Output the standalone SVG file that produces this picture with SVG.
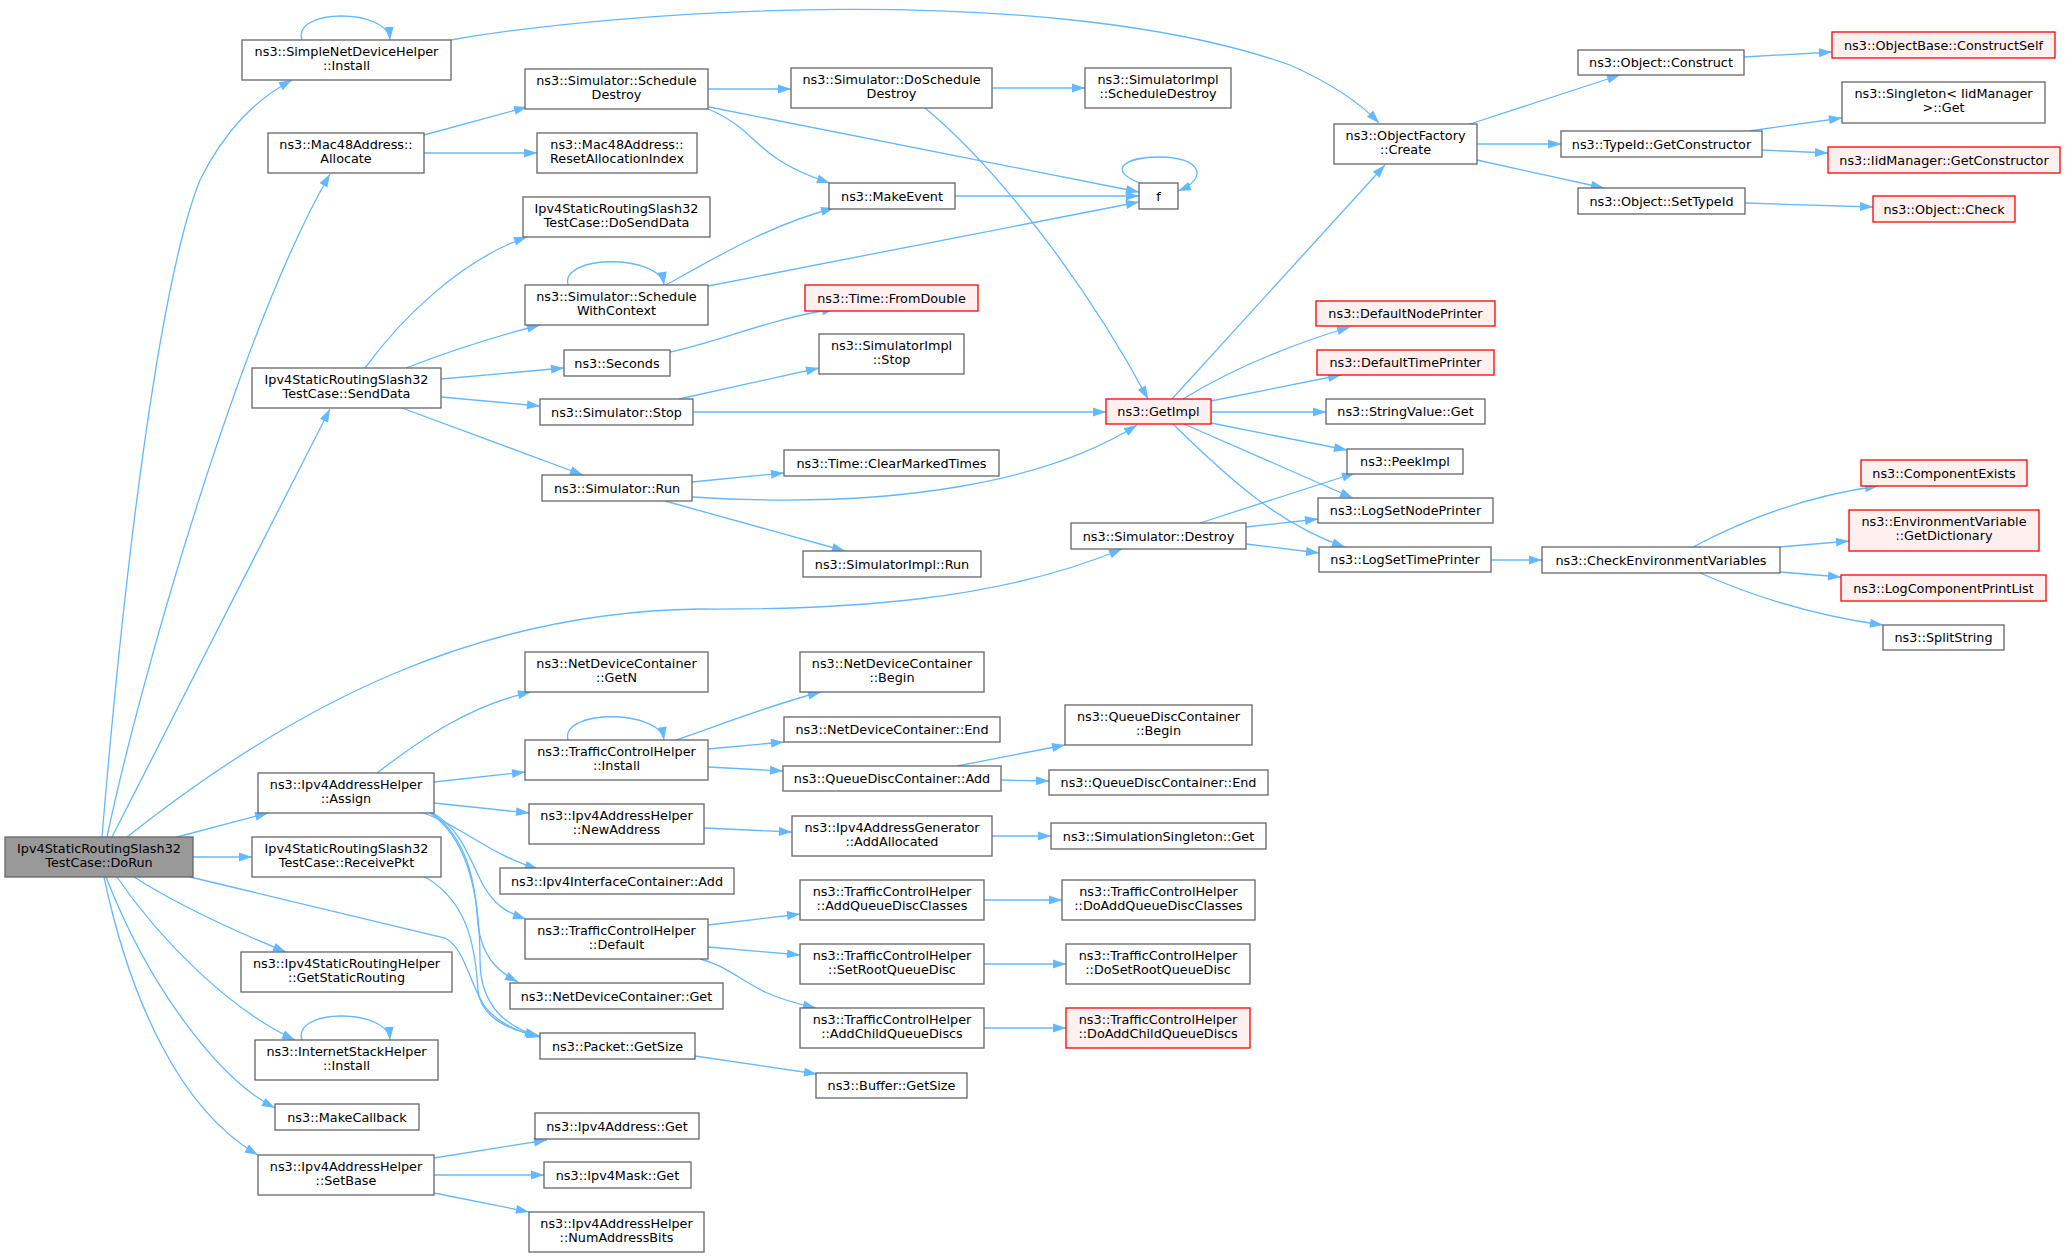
<svg xmlns="http://www.w3.org/2000/svg" width="2065" height="1257" viewBox="0 0 2065 1257">
<style>
rect{fill:#fff;stroke:#666;stroke-width:1.3}
.r rect{fill:#FFF0F0;stroke:#F00}
.g rect{fill:#999}
text{font-family:"DejaVu Sans","Liberation Sans",sans-serif;font-size:12.8px;text-anchor:middle;fill:#000}
#edges path{fill:none;stroke:#63B8FF;stroke-width:1.3;marker-end:url(#a)}
</style>
<defs>
<marker id="a" markerUnits="userSpaceOnUse" markerWidth="14" markerHeight="10" refX="13" refY="4.5" orient="auto" overflow="visible"><path d="M0,0L13,4.5L0,9z" fill="#63B8FF"/></marker>
</defs>
<rect x="0" y="0" width="2065" height="1257" style="fill:#fff;stroke:none"/>
<g id="edges">
<path d="M102,837C125,560 160,280 200,180C225,130 255,100 292,80"/>
<path d="M107,837C140,680 240,330 330,174"/>
<path d="M112,837L330,409"/>
<path d="M127,837C300,700 480,612 700,609C850,610 1000,600 1122,549"/>
<path d="M177,837L268,813"/>
<path d="M193,857L252,857"/>
<path d="M190,877L445,938C465,948 470,985 485,1007C500,1025 520,1032 540,1037"/>
<path d="M134,877C170,900 220,925 286,952"/>
<path d="M117,877C160,940 230,1010 295,1040"/>
<path d="M106,877C150,990 220,1080 275,1108"/>
<path d="M104,877C130,1000 180,1110 258,1155"/>
<path d="M302,40C292,8 388,8 390,40"/>
<path d="M302,1040C292,1008 388,1008 390,1040"/>
<path d="M451,40C620,10 1050,-20 1290,65C1335,85 1362,105 1379,123"/>
<path d="M424,135L527,107"/>
<path d="M424,153L537,153"/>
<path d="M708,89L791,89"/>
<path d="M708,109C740,122 752,140 768,152C785,166 805,175 830,183"/>
<path d="M709,107L1139,192"/>
<path d="M992,88L1085,88"/>
<path d="M925,108C1000,170 1090,290 1148,399"/>
<path d="M955,196L1139,196"/>
<path d="M1142,184C1105,170 1125,157 1160,157C1200,157 1210,178 1178,191"/>
<path d="M365,368C400,320 460,260 527,237"/>
<path d="M406,368Q470,343 540,325"/>
<path d="M441,379L564,368"/>
<path d="M441,397L540,406"/>
<path d="M402,408L583,475"/>
<path d="M568,285C560,254 660,254 664,285"/>
<path d="M666,285C720,255 770,225 834,208"/>
<path d="M708,286L1139,202"/>
<path d="M670,352C720,342 770,318 835,309"/>
<path d="M679,399L819,368"/>
<path d="M693,412L1106,412"/>
<path d="M692,482L784,473"/>
<path d="M692,497C900,510 1050,480 1137,425"/>
<path d="M665,501L845,551"/>
<path d="M1172,399L1385,165"/>
<path d="M1183,399C1230,370 1290,345 1350,327"/>
<path d="M1211,401L1341,375"/>
<path d="M1211,412L1326,412"/>
<path d="M1211,423L1347,450"/>
<path d="M1184,424L1353,498"/>
<path d="M1173,424C1230,480 1280,525 1345,547"/>
<path d="M1200,523L1355,473"/>
<path d="M1246,527L1318,519"/>
<path d="M1246,544L1319,553"/>
<path d="M377,773C420,740 470,705 531,692"/>
<path d="M568,740C560,709 660,709 664,740"/>
<path d="M434,782L525,772"/>
<path d="M434,803L529,813"/>
<path d="M423,813C460,825 490,855 538,869"/>
<path d="M433,813C462,830 470,860 483,885C495,905 505,912 526,919"/>
<path d="M432,813C470,840 476,890 478,925C482,955 495,970 518,982"/>
<path d="M430,813C470,840 480,900 480,960C480,1000 500,1025 538,1036"/>
<path d="M425,877C465,900 475,940 478,990C480,1015 505,1030 540,1036"/>
<path d="M676,740C720,725 770,705 821,692"/>
<path d="M708,749L784,742"/>
<path d="M708,767L783,771"/>
<path d="M957,766L1065,745"/>
<path d="M1001,780L1049,781"/>
<path d="M704,828L792,832"/>
<path d="M992,836L1051,836"/>
<path d="M708,925L800,914"/>
<path d="M708,947L800,955"/>
<path d="M700,959C725,965 740,980 765,992C782,1000 798,1004 816,1008"/>
<path d="M984,900L1062,900"/>
<path d="M984,964L1066,964"/>
<path d="M984,1028L1066,1028"/>
<path d="M695,1056L817,1074"/>
<path d="M434,1158L547,1140"/>
<path d="M434,1175L544,1175"/>
<path d="M434,1193L529,1212"/>
<path d="M1470,124L1620,75"/>
<path d="M1477,144L1561,144"/>
<path d="M1477,160L1604,188"/>
<path d="M1744,57L1832,52"/>
<path d="M1749,131L1842,118"/>
<path d="M1762,150L1828,153"/>
<path d="M1745,203L1873,207"/>
<path d="M1491,560L1542,560"/>
<path d="M1693,547C1740,522 1800,497 1878,486"/>
<path d="M1780,547L1849,541"/>
<path d="M1780,572L1841,577"/>
<path d="M1700,573C1750,595 1810,615 1883,625"/>
</g>
<g id="n_dorun" class="g"><rect x="5" y="837" width="188" height="40"/><text x="99" y="853">Ipv4StaticRoutingSlash32</text><text x="99" y="867.3">TestCase::DoRun</text></g>
<g id="n_simplenet"><rect x="242" y="40" width="209" height="40"/><text x="346.5" y="56">ns3::SimpleNetDeviceHelper</text><text x="346.5" y="70.3">::Install</text></g>
<g id="n_allocate"><rect x="268" y="133" width="156" height="40"/><text x="346" y="149">ns3::Mac48Address::</text><text x="346" y="163.3">Allocate</text></g>
<g id="n_senddata"><rect x="252" y="368" width="189" height="40"/><text x="346.5" y="384">Ipv4StaticRoutingSlash32</text><text x="346.5" y="398.3">TestCase::SendData</text></g>
<g id="n_assign"><rect x="258" y="773" width="176" height="40"/><text x="346" y="789">ns3::Ipv4AddressHelper</text><text x="346" y="803.3">::Assign</text></g>
<g id="n_receivepkt"><rect x="252" y="837" width="189" height="40"/><text x="346.5" y="853">Ipv4StaticRoutingSlash32</text><text x="346.5" y="867.3">TestCase::ReceivePkt</text></g>
<g id="n_getstaticrouting"><rect x="241" y="952" width="211" height="40"/><text x="346.5" y="968">ns3::Ipv4StaticRoutingHelper</text><text x="346.5" y="982.3">::GetStaticRouting</text></g>
<g id="n_ishinstall"><rect x="255" y="1040" width="183" height="40"/><text x="346.5" y="1056">ns3::InternetStackHelper</text><text x="346.5" y="1070.3">::Install</text></g>
<g id="n_makecallback"><rect x="275" y="1104" width="144" height="26"/><text x="347" y="1121.5">ns3::MakeCallback</text></g>
<g id="n_setbase"><rect x="258" y="1155" width="176" height="40"/><text x="346" y="1171">ns3::Ipv4AddressHelper</text><text x="346" y="1185.3">::SetBase</text></g>
<g id="n_scheduledestroy"><rect x="525" y="69" width="183" height="40"/><text x="616.5" y="85">ns3::Simulator::Schedule</text><text x="616.5" y="99.3">Destroy</text></g>
<g id="n_resetalloc"><rect x="537" y="133" width="160" height="40"/><text x="617" y="149">ns3::Mac48Address::</text><text x="617" y="163.3">ResetAllocationIndex</text></g>
<g id="n_dosenddata"><rect x="523" y="197" width="187" height="40"/><text x="616.5" y="213">Ipv4StaticRoutingSlash32</text><text x="616.5" y="227.3">TestCase::DoSendData</text></g>
<g id="n_schedulewithcontext"><rect x="525" y="285" width="183" height="40"/><text x="616.5" y="301">ns3::Simulator::Schedule</text><text x="616.5" y="315.3">WithContext</text></g>
<g id="n_seconds"><rect x="564" y="350" width="106" height="26"/><text x="617" y="367.5">ns3::Seconds</text></g>
<g id="n_stop"><rect x="540" y="399" width="153" height="26"/><text x="616.5" y="416.5">ns3::Simulator::Stop</text></g>
<g id="n_run"><rect x="542" y="475" width="150" height="26"/><text x="617" y="492.5">ns3::Simulator::Run</text></g>
<g id="n_getn"><rect x="525" y="652" width="183" height="40"/><text x="616.5" y="668">ns3::NetDeviceContainer</text><text x="616.5" y="682.3">::GetN</text></g>
<g id="n_tchinstall"><rect x="525" y="740" width="183" height="40"/><text x="616.5" y="756">ns3::TrafficControlHelper</text><text x="616.5" y="770.3">::Install</text></g>
<g id="n_newaddress"><rect x="529" y="804" width="175" height="40"/><text x="616.5" y="820">ns3::Ipv4AddressHelper</text><text x="616.5" y="834.3">::NewAddress</text></g>
<g id="n_ifcadd"><rect x="500" y="868" width="234" height="26"/><text x="617" y="885.5">ns3::Ipv4InterfaceContainer::Add</text></g>
<g id="n_default"><rect x="525" y="919" width="183" height="40"/><text x="616.5" y="935">ns3::TrafficControlHelper</text><text x="616.5" y="949.3">::Default</text></g>
<g id="n_ndcget"><rect x="510" y="983" width="213" height="26"/><text x="616.5" y="1000.5">ns3::NetDeviceContainer::Get</text></g>
<g id="n_packetgetsize"><rect x="540" y="1033" width="155" height="26"/><text x="617.5" y="1050.5">ns3::Packet::GetSize</text></g>
<g id="n_ipv4addrget"><rect x="535" y="1113" width="164" height="26"/><text x="617" y="1130.5">ns3::Ipv4Address::Get</text></g>
<g id="n_maskget"><rect x="544" y="1162" width="147" height="26"/><text x="617.5" y="1179.5">ns3::Ipv4Mask::Get</text></g>
<g id="n_numaddressbits"><rect x="529" y="1212" width="175" height="40"/><text x="616.5" y="1228">ns3::Ipv4AddressHelper</text><text x="616.5" y="1242.3">::NumAddressBits</text></g>
<g id="n_doscheduledestroy"><rect x="791" y="68" width="201" height="40"/><text x="891.5" y="84">ns3::Simulator::DoSchedule</text><text x="891.5" y="98.3">Destroy</text></g>
<g id="n_makeevent"><rect x="829" y="183" width="126" height="26"/><text x="892" y="200.5">ns3::MakeEvent</text></g>
<g id="n_fromdouble" class="r"><rect x="805" y="285" width="173" height="26"/><text x="891.5" y="302.5">ns3::Time::FromDouble</text></g>
<g id="n_simimplstop"><rect x="819" y="334" width="145" height="40"/><text x="891.5" y="350">ns3::SimulatorImpl</text><text x="891.5" y="364.3">::Stop</text></g>
<g id="n_clearmarked"><rect x="784" y="450" width="215" height="26"/><text x="891.5" y="467.5">ns3::Time::ClearMarkedTimes</text></g>
<g id="n_simimplrun"><rect x="803" y="551" width="178" height="26"/><text x="892" y="568.5">ns3::SimulatorImpl::Run</text></g>
<g id="n_ndcbegin"><rect x="800" y="652" width="184" height="40"/><text x="892" y="668">ns3::NetDeviceContainer</text><text x="892" y="682.3">::Begin</text></g>
<g id="n_ndcend"><rect x="784" y="717" width="216" height="25"/><text x="892" y="734">ns3::NetDeviceContainer::End</text></g>
<g id="n_qdcadd"><rect x="783" y="766" width="218" height="25"/><text x="892" y="783">ns3::QueueDiscContainer::Add</text></g>
<g id="n_addallocated"><rect x="792" y="816" width="200" height="40"/><text x="892" y="832">ns3::Ipv4AddressGenerator</text><text x="892" y="846.3">::AddAllocated</text></g>
<g id="n_addqdclasses"><rect x="800" y="880" width="184" height="40"/><text x="892" y="896">ns3::TrafficControlHelper</text><text x="892" y="910.3">::AddQueueDiscClasses</text></g>
<g id="n_setroot"><rect x="800" y="944" width="184" height="40"/><text x="892" y="960">ns3::TrafficControlHelper</text><text x="892" y="974.3">::SetRootQueueDisc</text></g>
<g id="n_addchild"><rect x="800" y="1008" width="184" height="40"/><text x="892" y="1024">ns3::TrafficControlHelper</text><text x="892" y="1038.3">::AddChildQueueDiscs</text></g>
<g id="n_buffergetsize"><rect x="816" y="1073" width="151" height="25"/><text x="891.5" y="1090">ns3::Buffer::GetSize</text></g>
<g id="n_simimplscheduledestroy"><rect x="1085" y="68" width="146" height="40"/><text x="1158" y="84">ns3::SimulatorImpl</text><text x="1158" y="98.3">::ScheduleDestroy</text></g>
<g id="n_f"><rect x="1139" y="183" width="39" height="26"/><text x="1158.5" y="200.5">f</text></g>
<g id="n_getimpl" class="r"><rect x="1106" y="399" width="105" height="25"/><text x="1158.5" y="416">ns3::GetImpl</text></g>
<g id="n_destroy"><rect x="1071" y="523" width="175" height="26"/><text x="1158.5" y="540.5">ns3::Simulator::Destroy</text></g>
<g id="n_qdcbegin"><rect x="1065" y="705" width="187" height="40"/><text x="1158.5" y="721">ns3::QueueDiscContainer</text><text x="1158.5" y="735.3">::Begin</text></g>
<g id="n_qdcend"><rect x="1049" y="770" width="219" height="25"/><text x="1158.5" y="787">ns3::QueueDiscContainer::End</text></g>
<g id="n_simsingleton"><rect x="1051" y="823" width="215" height="26"/><text x="1158.5" y="840.5">ns3::SimulationSingleton::Get</text></g>
<g id="n_doaddqdclasses"><rect x="1062" y="880" width="193" height="40"/><text x="1158.5" y="896">ns3::TrafficControlHelper</text><text x="1158.5" y="910.3">::DoAddQueueDiscClasses</text></g>
<g id="n_dosetroot"><rect x="1066" y="944" width="184" height="40"/><text x="1158" y="960">ns3::TrafficControlHelper</text><text x="1158" y="974.3">::DoSetRootQueueDisc</text></g>
<g id="n_doaddchild" class="r"><rect x="1066" y="1008" width="184" height="40"/><text x="1158" y="1024">ns3::TrafficControlHelper</text><text x="1158" y="1038.3">::DoAddChildQueueDiscs</text></g>
<g id="n_objectfactory"><rect x="1334" y="124" width="143" height="40"/><text x="1405.5" y="140">ns3::ObjectFactory</text><text x="1405.5" y="154.3">::Create</text></g>
<g id="n_defaultnodeprinter" class="r"><rect x="1316" y="301" width="179" height="25"/><text x="1405.5" y="318">ns3::DefaultNodePrinter</text></g>
<g id="n_defaulttimeprinter" class="r"><rect x="1317" y="350" width="177" height="25"/><text x="1405.5" y="367">ns3::DefaultTimePrinter</text></g>
<g id="n_stringvalue"><rect x="1326" y="399" width="159" height="25"/><text x="1405.5" y="416">ns3::StringValue::Get</text></g>
<g id="n_peekimpl"><rect x="1347" y="449" width="116" height="25"/><text x="1405" y="466">ns3::PeekImpl</text></g>
<g id="n_logsetnodeprinter"><rect x="1318" y="498" width="175" height="25"/><text x="1405.5" y="515">ns3::LogSetNodePrinter</text></g>
<g id="n_logsettimeprinter"><rect x="1319" y="547" width="172" height="25"/><text x="1405" y="564">ns3::LogSetTimePrinter</text></g>
<g id="n_objconstruct"><rect x="1578" y="50" width="166" height="25"/><text x="1661" y="67">ns3::Object::Construct</text></g>
<g id="n_getconstructor"><rect x="1561" y="131" width="201" height="26"/><text x="1661.5" y="148.5">ns3::TypeId::GetConstructor</text></g>
<g id="n_settypeid"><rect x="1578" y="188" width="167" height="26"/><text x="1661.5" y="205.5">ns3::Object::SetTypeId</text></g>
<g id="n_checkenv"><rect x="1542" y="547" width="238" height="26"/><text x="1661" y="564.5">ns3::CheckEnvironmentVariables</text></g>
<g id="n_constructself" class="r"><rect x="1832" y="32" width="223" height="26"/><text x="1943.5" y="49.5">ns3::ObjectBase::ConstructSelf</text></g>
<g id="n_singleton"><rect x="1842" y="82" width="203" height="41"/><text x="1943.5" y="98">ns3::Singleton&lt; IidManager</text><text x="1943.5" y="112.3">&gt;::Get</text></g>
<g id="n_iidmanager" class="r"><rect x="1828" y="147" width="232" height="26"/><text x="1944" y="164.5">ns3::IidManager::GetConstructor</text></g>
<g id="n_check" class="r"><rect x="1873" y="196" width="142" height="26"/><text x="1944" y="213.5">ns3::Object::Check</text></g>
<g id="n_componentexists" class="r"><rect x="1861" y="460" width="166" height="26"/><text x="1944" y="477.5">ns3::ComponentExists</text></g>
<g id="n_getdictionary" class="r"><rect x="1849" y="510" width="190" height="41"/><text x="1944" y="526">ns3::EnvironmentVariable</text><text x="1944" y="540.3">::GetDictionary</text></g>
<g id="n_logcomponentprintlist" class="r"><rect x="1841" y="575" width="205" height="26"/><text x="1943.5" y="592.5">ns3::LogComponentPrintList</text></g>
<g id="n_splitstring"><rect x="1883" y="625" width="121" height="25"/><text x="1943.5" y="642">ns3::SplitString</text></g>
</svg>
